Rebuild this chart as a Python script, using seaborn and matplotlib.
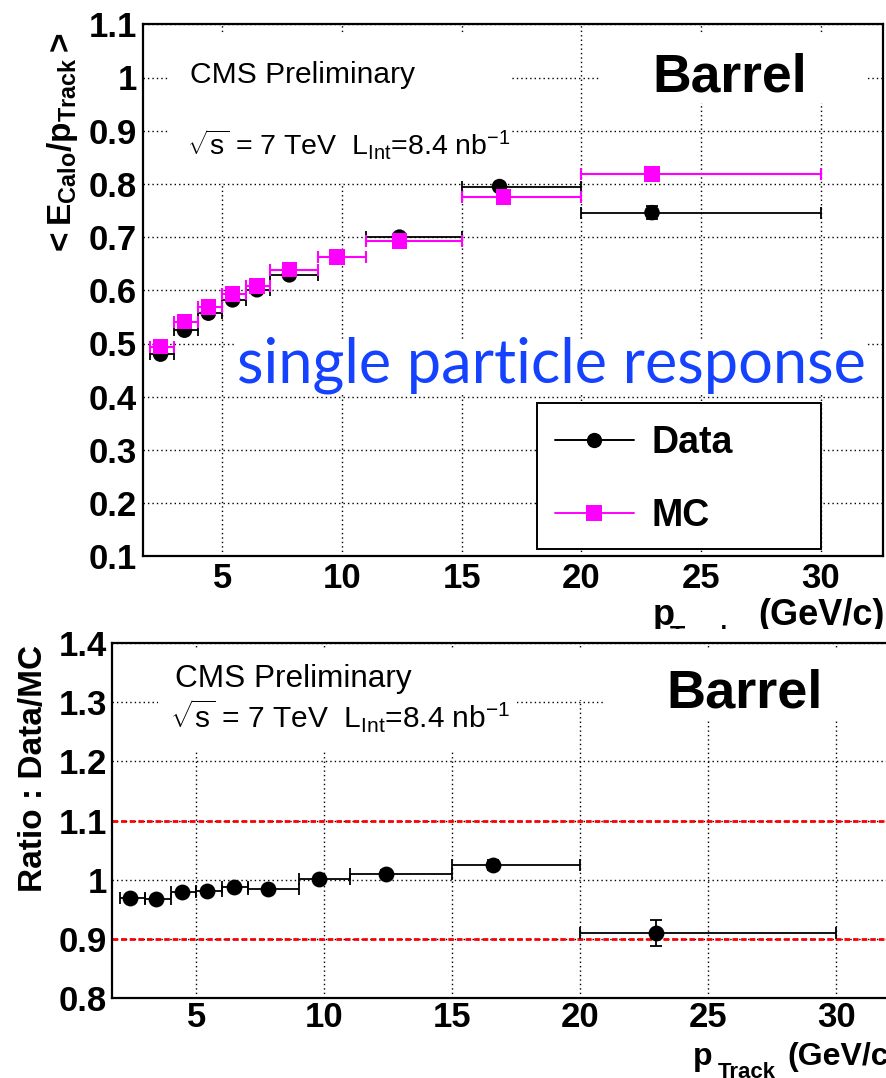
import numpy as np
import pandas as pd
import matplotlib
matplotlib.use("Agg")
import matplotlib.pyplot as plt
import seaborn as sns
from matplotlib.patches import Rectangle
from matplotlib.lines import Line2D
from matplotlib.ticker import MultipleLocator, FuncFormatter

# ---------------- data ----------------
bin_lo = [2, 3, 4, 5, 6, 7, 9, 11, 15, 20]
bin_hi = [3, 4, 5, 6, 7, 9, 11, 15, 20, 30]
p_data = [2.42, 3.42, 4.42, 5.43, 6.45, 7.8, 9.8, 12.4, 16.58, 22.95]
p_mc = [2.42, 3.42, 4.42, 5.43, 6.45, 7.8, 9.8, 12.4, 16.75, 22.95]
resp_data = [0.480, 0.525, 0.557, 0.582, 0.601, 0.629, 0.663, 0.700, 0.795, 0.746]
resp_data_err = [0.003, 0.003, 0.003, 0.003, 0.003, 0.003, 0.004, 0.004, 0.006, 0.012]
resp_mc = [0.494, 0.541, 0.569, 0.593, 0.608, 0.639, 0.663, 0.693, 0.775, 0.819]
resp_mc_err = [0.002, 0.002, 0.002, 0.002, 0.002, 0.002, 0.002, 0.003, 0.004, 0.006]
ratio = [0.970, 0.968, 0.980, 0.981, 0.988, 0.984, 1.002, 1.010, 1.025, 0.911]
ratio_err = [0.004, 0.004, 0.004, 0.004, 0.004, 0.005, 0.005, 0.006, 0.008, 0.022]
ref_lines = [1.1, 0.9]

# ---------------- style ----------------
sns.set_style("white")
plt.rcParams['font.family'] = ['Liberation Sans', 'DejaVu Sans']
plt.rcParams['font.weight'] = 'bold'
plt.rcParams['text.color'] = 'black'
plt.rcParams['axes.labelcolor'] = 'black'
plt.rcParams['xtick.color'] = 'black'
plt.rcParams['ytick.color'] = 'black'
plt.rcParams['mathtext.fontset'] = 'custom'
plt.rcParams['mathtext.rm'] = 'Liberation Sans'
plt.rcParams['mathtext.bf'] = 'Liberation Sans:bold'
plt.rcParams['mathtext.it'] = 'Liberation Sans:italic'
plt.rcParams['mathtext.default'] = 'regular'

W, H = 886, 1078
fig = plt.figure(figsize=(W / 100, H / 100), dpi=100)
fig.patch.set_facecolor('white')


def rect(l, t, r, b):
    return [l / W, 1 - b / H, (r - l) / W, (b - t) / H]


def fx(x):
    return x / W


def fy(y):
    return 1 - y / H


ax1 = fig.add_axes(rect(143.3, 24.3, 883, 556.3))
ax2 = fig.add_axes(rect(112, 643, 903, 998.3))
ax1.set_zorder(0)
ax2.set_zorder(2)

fmt = FuncFormatter(lambda v, p: "%g" % round(v, 3))
for ax in (ax1, ax2):
    ax.set_xlim(1.7, 32.6)
    ax.set_axisbelow(True)
    ax.xaxis.set_major_locator(MultipleLocator(5))
    ax.xaxis.set_minor_locator(MultipleLocator(1))
    ax.yaxis.set_major_formatter(fmt)
    ax.grid(True, which='major', color='black', linestyle=(0, (1, 2.2)), linewidth=1.0)
    for s in ax.spines.values():
        s.set_linewidth(1.6)
        s.set_color('black')
    ax.tick_params(axis='both', which='both', direction='in', top=False, right=False,
                   color='black', width=1.2, labelsize=25, labelcolor='black')
    ax.tick_params(axis='x', which='major', length=10.5)
    ax.tick_params(axis='x', which='minor', length=5)
    ax.tick_params(axis='y', which='major', length=14.4)
    ax.tick_params(axis='y', which='minor', length=7.2)

ax1.set_ylim(0.1, 1.1)
ax1.yaxis.set_major_locator(MultipleLocator(0.1))
ax1.yaxis.set_minor_locator(MultipleLocator(0.02))
ax1.tick_params(axis='x', pad=4.0)
ax1.tick_params(axis='y', pad=4.5)

ax2.set_ylim(0.8, 1.4)
ax2.yaxis.set_major_locator(MultipleLocator(0.1))
ax2.yaxis.set_minor_locator(MultipleLocator(0.02))
ax2.tick_params(axis='x', pad=2.0)
ax2.tick_params(axis='y', pad=3.6)


def white_box(ax, l, t, r, b):
    inv = ax.transAxes.inverted()
    (x0, y0) = inv.transform(fig.transFigure.transform((fx(l), fy(b))))
    (x1, y1) = inv.transform(fig.transFigure.transform((fx(r), fy(t))))
    ax.add_patch(Rectangle((x0, y0), x1 - x0, y1 - y0, transform=ax.transAxes,
                           facecolor='white', edgecolor='none', zorder=1, clip_on=False))


# text boxes hiding the grid (ROOT TPaveText)
white_box(ax1, 170, 35, 510, 183)
white_box(ax1, 600, 35, 867, 103)
white_box(ax1, 234, 340, 866, 394)
white_box(ax2, 158, 650, 590, 700)
white_box(ax2, 158, 700, 514, 752)
white_box(ax2, 605, 650, 905, 720)

# ---------------- top panel ----------------
lo = np.array(bin_lo, float)
hi = np.array(bin_hi, float)
pd_ = np.array(p_data)
pm_ = np.array(p_mc)

ax1.errorbar(pd_, resp_data, xerr=[pd_ - lo, hi - pd_], yerr=resp_data_err, fmt='none',
             ecolor='black', elinewidth=1.3, capsize=4.5, capthick=1.3, zorder=2)
ax1.errorbar(pm_, resp_mc, xerr=[pm_ - lo, hi - pm_], yerr=resp_mc_err, fmt='none',
             ecolor='#ff00ff', elinewidth=1.5, capsize=4.5, capthick=1.5, zorder=2)

df_resp = pd.DataFrame({
    'p': list(p_data) + list(p_mc),
    'resp': resp_data + resp_mc,
    'sample': ['Data'] * len(p_data) + ['MC'] * len(p_mc),
})
sns.scatterplot(data=df_resp, x='p', y='resp', hue='sample', style='sample',
                markers={'Data': 'o', 'MC': 's'},
                palette={'Data': 'black', 'MC': '#ff00ff'},
                s=125, linewidth=0, legend=False, ax=ax1, zorder=3)
ax1.set_xlabel('')
ax1.set_ylabel(r"$<E_{Calo}/p_{Track}>$", fontsize=24, fontweight='bold',
               ha='right', va='baseline')
ax1.yaxis.set_label_coords(-0.0977, 0.9855)

# top x label (partly hidden by the lower pad, as in the original)
ax1.text(fx(653), fy(625), "p", transform=fig.transFigure, fontsize=26,
         fontweight='bold', ha='left', va='baseline')
ax1.text(fx(670), fy(643.5), "Track", transform=fig.transFigure, fontsize=18,
         fontweight='bold', ha='left', va='baseline')
ax1.text(fx(885), fy(625), "(GeV/c)", transform=fig.transFigure, fontsize=26,
         fontweight='bold', ha='right', va='baseline')

ax1.text(fx(190), fy(83), "CMS Preliminary", transform=fig.transFigure,
         fontsize=21.6, fontweight='normal', ha='left', va='baseline', zorder=5)
ax1.text(fx(187), fy(155), r"$\sqrt{s}$ = 7 TeV  L$_{Int}$=8.4 nb$^{-1}$",
         transform=fig.transFigure, fontsize=20.5, fontweight='normal',
         ha='left', va='baseline', zorder=5)
ax1.text(fx(807), fy(92), "Barrel", transform=fig.transFigure, fontsize=38.5,
         fontweight='bold', ha='right', va='baseline', zorder=5)

spr = ax1.text(fx(237), fy(383), "single particle response", transform=fig.transFigure,
               fontsize=40, fontweight='normal', family=['Lato', 'DejaVu Sans'],
               color='#1442ff', ha='left', va='baseline', zorder=5)
renderer = fig.canvas.get_renderer()
wpx = spr.get_window_extent(renderer).width
spr.set_fontsize(40 * 628.0 / wpx)

# legend (ROOT style box)
inv1 = ax1.transAxes.inverted()
(lx0, ly0) = inv1.transform(fig.transFigure.transform((fx(537), fy(549))))
(lx1, ly1) = inv1.transform(fig.transFigure.transform((fx(821), fy(403.3))))
ax1.add_patch(Rectangle((lx0, ly0), lx1 - lx0, ly1 - ly0, transform=ax1.transAxes,
                        facecolor='white', edgecolor='black', linewidth=1.4, zorder=4,
                        clip_on=False))
for yy, col, mk, lab in [(440, 'black', 'o', 'Data'), (512.7, '#ff00ff', 's', 'MC')]:
    ax1.add_line(Line2D([fx(555), fx(594), fx(634)], [fy(yy)] * 3, transform=fig.transFigure,
                        color=col, linewidth=1.4, marker=mk, markersize=11,
                        markevery=[1], markeredgewidth=0, zorder=5))
    ax1.text(fx(652), fy(yy + 13.3), lab, transform=fig.transFigure, fontsize=27,
             fontweight='bold', ha='left', va='baseline', zorder=6)

# ---------------- bottom panel ----------------
# white cover: the lower pad hides the bottom of the upper x title
fig.add_artist(Rectangle((0, 0), 1, fy(628.5), transform=fig.transFigure,
                         facecolor='white', edgecolor='none', zorder=1))

for v in ref_lines:
    ax2.axhline(v, color='red', linestyle=(0, (2.0, 1.1)), linewidth=2.0, zorder=1.5)

ax2.errorbar(pd_, ratio, xerr=[pd_ - lo, hi - pd_], yerr=ratio_err, fmt='none',
             ecolor='black', elinewidth=1.3, capsize=4.5, capthick=1.3, zorder=2)
df_ratio = pd.DataFrame({'p': p_data, 'ratio': ratio})
sns.scatterplot(data=df_ratio, x='p', y='ratio', color='black', marker='o', s=130,
                linewidth=0, legend=False, ax=ax2, zorder=3)
ax2.set_xlabel('')
ax2.set_ylabel("Ratio : Data/MC", fontsize=24, fontweight='bold', ha='right', va='baseline')
ax2.yaxis.set_label_coords(-0.0885, 0.9944)

ax2.text(fx(693), fy(1065), "p", transform=fig.transFigure, fontsize=23,
         fontweight='bold', ha='left', va='baseline')
ax2.text(fx(718), fy(1078), "Track", transform=fig.transFigure, fontsize=16,
         fontweight='bold', ha='left', va='baseline')
ax2.text(fx(787), fy(1065), "(GeV/c)", transform=fig.transFigure, fontsize=23,
         fontweight='bold', ha='left', va='baseline')

ax2.text(fx(175), fy(687), "CMS Preliminary", transform=fig.transFigure,
         fontsize=22.7, fontweight='normal', ha='left', va='baseline', zorder=5)
ax2.text(fx(170), fy(728), r"$\sqrt{s}$ = 7 TeV  L$_{Int}$=8.4 nb$^{-1}$",
         transform=fig.transFigure, fontsize=21.5, fontweight='normal',
         ha='left', va='baseline', zorder=5)
ax2.text(fx(823), fy(707), "Barrel", transform=fig.transFigure, fontsize=39,
         fontweight='bold', ha='right', va='baseline', zorder=5)

fig.savefig("out.png", dpi=100, facecolor='white')
